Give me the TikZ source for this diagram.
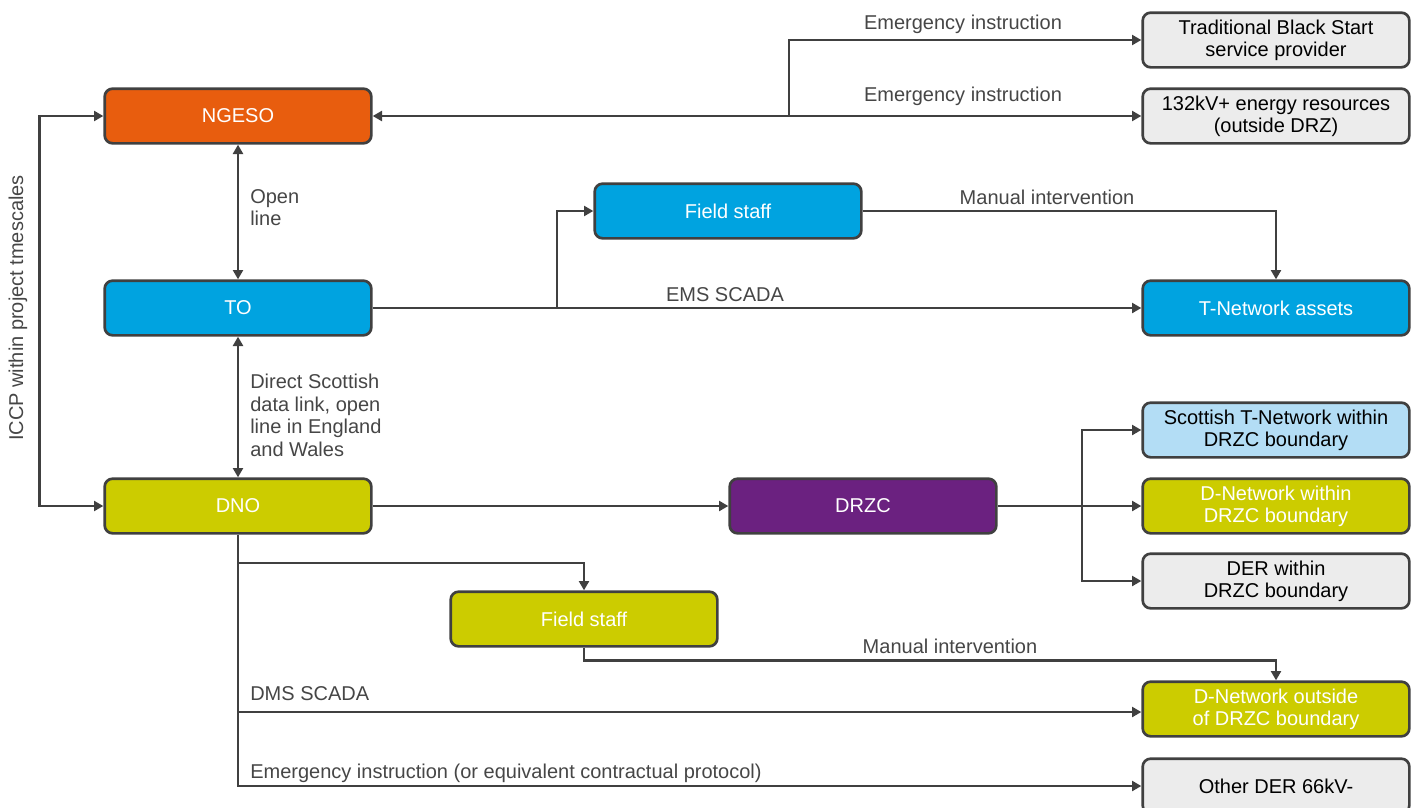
\documentclass[tikz,border=0pt]{standalone}
\usepackage{fontspec}
\setmainfont{Liberation Sans}
\usetikzlibrary{positioning, arrows.meta}

\begin{document}
\begin{tikzpicture}[x=0.75pt, y=-0.75pt,
  >={Triangle[length=7pt,width=7.5pt]},
  box/.style={draw=edge, line width=2pt, rounded corners=6pt, minimum width=200pt,
    minimum height=41pt, inner sep=2pt, align=center, font=\fontsize{15}{16.5}\selectfont},
  darkbox/.style={box, text=white},
  lightbox/.style={box, text=black},
  link/.style={draw=edge, line width=2pt},
  lbl/.style={text=labeltext, inner sep=0pt, align=left, font=\fontsize{15}{16.9}\selectfont}]

% Define colors for each kind of box
\definecolor{ngesoorange}{RGB}{232,93,14}
\definecolor{toblue}{RGB}{0,163,224}
\definecolor{dnoyellow}{RGB}{204,204,0}
\definecolor{drzcpurple}{RGB}{107,33,128}
\definecolor{boxgray}{RGB}{236,236,236}
\definecolor{paleblue}{RGB}{179,221,245}
\definecolor{edge}{RGB}{64,64,64}
\definecolor{labeltext}{RGB}{70,70,70}

\useasboundingbox (0,0) rectangle (1419,807);

% Left column
\node[darkbox, fill=ngesoorange] (ngeso) at (238,116) {NGESO};
\node[darkbox, fill=toblue] (to) at (238,308) {TO};
\node[darkbox, fill=dnoyellow] (dno) at (238,506) {DNO};

% Middle boxes
\node[darkbox, fill=toblue] (tofield) at (728,211) {Field staff};
\node[darkbox, fill=drzcpurple] (drzc) at (863,506) {DRZC};
\node[darkbox, fill=dnoyellow] (dnofield) at (584,619) {Field staff};

% Right column
\node[lightbox, fill=boxgray] (blackstart) at (1276,40) {Traditional Black Start\\service provider};
\node[lightbox, fill=boxgray] (res132) at (1276,116) {132kV+ energy resources\\(outside DRZ)};
\node[darkbox, fill=toblue] (tnet) at (1276,308) {T-Network assets};
\node[lightbox, fill=paleblue] (scotnet) at (1276,430) {Scottish T-Network within\\DRZC boundary};
\node[darkbox, fill=dnoyellow] (dnetin) at (1276,506) {D-Network within\\DRZC boundary};
\node[lightbox, fill=boxgray] (derin) at (1276,581) {DER within\\DRZC boundary};
\node[darkbox, fill=dnoyellow] (dnetout) at (1276,709) {D-Network outside\\of DRZC boundary};
\node[lightbox, fill=boxgray] (othder) at (1276,786) {Other DER 66kV-};

% NGESO links
\draw[link,<->] (ngeso) -- (to);
\node[lbl, anchor=north west] (openlbl) at (250,189) {Open\\line};
\draw[link,<->] (ngeso.west) -- ++(-64,0) |- (dno.west);
\node[lbl, rotate=90] (iccplbl) at (18,308) {ICCP within project tmescales};
\draw[link,<->] (ngeso.east) -- (res132.west);
\coordinate (esosplit) at (789,116);
\draw[link,->] (esosplit) |- (blackstart.west);
\node[lbl] (emerg1) at (963,24) {Emergency instruction};
\node[lbl] (emerg2) at (963,96) {Emergency instruction};

% TO links
\draw[link,<->] (to) -- (dno);
\node[lbl, anchor=north west] (scotlbl) at (250,374) {Direct Scottish\\data link, open\\line in England\\and Wales};
\draw[link,->] (to.east) -- (tnet.west);
\coordinate (tosplit) at (557,308);
\draw[link,->] (tosplit) |- (tofield.west);
\node[lbl] (emslbl) at (725,295) {EMS SCADA};
\draw[link,->] (tofield.east) -| (tnet.north);
\node[lbl] (manual1) at (1047,197) {Manual intervention};

% DNO links
\draw[link,->] (dno) -- (drzc);
\draw[link,->] (drzc) -- (dnetin);
\coordinate (drzcsplit) at (1082,506);
\draw[link,->] (drzcsplit) |- (scotnet.west);
\draw[link,->] (drzcsplit) |- (derin.west);
\draw[link,->] (dno.south) |- (othder.west);
\node[lbl, anchor=west] (emerg3) at (250,773) {Emergency instruction (or equivalent contractual protocol)};
\coordinate (fieldbranch) at (238,563);
\draw[link,->] (fieldbranch) -| (dnofield.north);
\coordinate (dmsbranch) at (238,712);
\draw[link,->] (dmsbranch) -- (dmsbranch -| dnetout.west);
\node[lbl, anchor=west] (dmslbl) at (250,694) {DMS SCADA};
\draw[link,->] (dnofield.south) -- ++(0,13) -| (dnetout.north);
\node[lbl] (manual2) at (950,646) {Manual intervention};

\end{tikzpicture}
\end{document}
